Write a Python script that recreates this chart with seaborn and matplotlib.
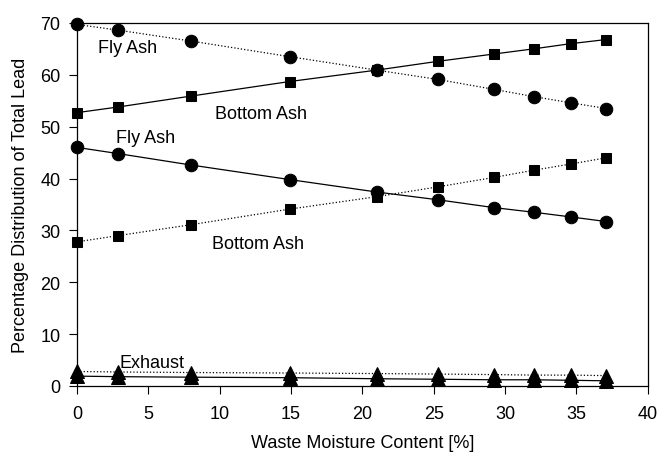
import matplotlib
matplotlib.use("Agg")
import matplotlib.pyplot as plt
import seaborn as sns
import pandas as pd

moisture = [0, 2.9, 8, 14.9, 21, 25.3, 29.2, 32, 34.6, 37.1]

fly_ash_dotted = [69.7, 68.6, 66.5, 63.5, 60.9, 59.1, 57.2, 55.8, 54.6, 53.5]
bottom_ash_solid = [52.7, 53.8, 55.9, 58.7, 60.9, 62.6, 64.0, 65.0, 66.0, 66.8]
fly_ash_solid = [46.0, 44.8, 42.6, 39.8, 37.4, 35.9, 34.4, 33.5, 32.6, 31.7]
bottom_ash_dotted = [27.8, 29.0, 31.1, 34.1, 36.5, 38.4, 40.2, 41.6, 42.8, 44.0]
exhaust_dotted = [2.8, 2.7, 2.6, 2.5, 2.4, 2.3, 2.2, 2.1, 2.1, 2.0]
exhaust_solid = [1.9, 1.8, 1.7, 1.6, 1.4, 1.3, 1.2, 1.2, 1.1, 1.0]

series = [
    (fly_ash_dotted, "o", ":", 9),
    (bottom_ash_solid, "s", "-", 7.8),
    (fly_ash_solid, "o", "-", 9),
    (bottom_ash_dotted, "s", ":", 7.8),
    (exhaust_dotted, "^", ":", 9.5),
    (exhaust_solid, "^", "-", 9.5),
]

labels = [
    ("Fly Ash", 1.5, 65.3),
    ("Bottom Ash", 9.7, 52.6),
    ("Fly Ash", 2.7, 48.0),
    ("Bottom Ash", 9.45, 27.4),
    ("Exhaust", 3.0, 4.6),
]

sns.set_style("ticks")
plt.rcParams["font.family"] = ["Liberation Sans", "DejaVu Sans"]
plt.rcParams["axes.labelcolor"] = "black"
plt.rcParams["text.color"] = "black"
plt.rcParams["xtick.color"] = "black"
plt.rcParams["ytick.color"] = "black"

fig = plt.figure(figsize=(6.61, 4.6), dpi=100)
ax = fig.add_axes([0.1165, 0.1587, 0.8635, 0.7893])

for vals, mk, ls, ms in series:
    df = pd.DataFrame({"x": moisture, "y": vals})
    sns.lineplot(data=df, x="x", y="y", ax=ax, color="black", marker=mk,
                 linestyle=ls, linewidth=0.9, markersize=ms,
                 markeredgecolor="black", markerfacecolor="black")

for txt, x, y in labels:
    ax.text(x, y, txt, fontsize=13, ha="left", va="center", color="black")

ax.set_xlim(0, 40)
ax.set_ylim(0, 70)
ax.set_xticks(range(0, 41, 5))
ax.set_yticks(range(0, 71, 10))
ax.tick_params(axis="both", direction="out", length=6, width=0.8, labelsize=13,
               colors="black", labelcolor="black")
ax.tick_params(axis="x", pad=8)
ax.tick_params(axis="y", pad=6)
ax.set_xlabel("Waste Moisture Content [%]", fontsize=13, labelpad=8, color="black")
ax.set_ylabel("Percentage Distribution of Total Lead", fontsize=13, labelpad=8,
              color="black")
for s in ax.spines.values():
    s.set_visible(True)
    s.set_linewidth(0.9)
    s.set_color("black")
for line in ax.lines:
    line.set_clip_on(False)

fig.savefig("out.png", dpi=100)
